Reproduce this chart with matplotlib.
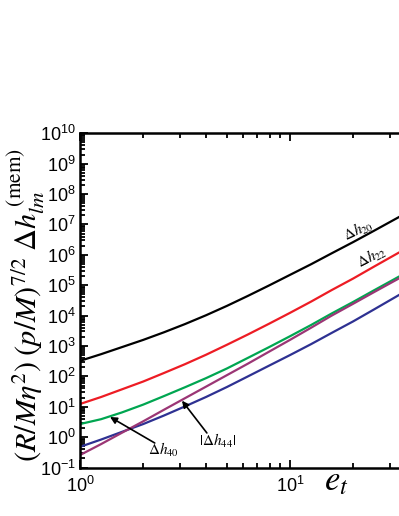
import matplotlib
matplotlib.use("Agg")
import matplotlib.pyplot as plt
from matplotlib.ticker import LogLocator, NullFormatter
import numpy as np

# eccentricity parameter e_t
e_t = [1.0, 1.26, 1.58, 2.0, 2.51, 3.16, 3.98, 5.01, 6.31, 7.94,
       10.0, 12.6, 15.8, 20.0, 25.1, 31.6, 39.8]

# log10 of (R/M eta^2)(p/M)^{7/2} Delta h_lm^(mem)
log_dh20 = [2.51, 2.73, 2.96, 3.20, 3.45, 3.72, 4.01, 4.32, 4.65, 4.99,
            5.34, 5.69, 6.05, 6.42, 6.79, 7.17, 7.55]
log_dh22 = [1.09, 1.32, 1.57, 1.83, 2.11, 2.40, 2.71, 3.04, 3.38, 3.73,
            4.09, 4.46, 4.84, 5.22, 5.61, 6.00, 6.39]
log_dh40 = [0.43, 0.59, 0.81, 1.07, 1.35, 1.64, 1.94, 2.26, 2.61, 2.96,
            3.32, 3.69, 4.07, 4.45, 4.83, 5.21, 5.59]
log_dh44 = [-0.59, -0.23, 0.14, 0.52, 0.90, 1.28, 1.66, 2.04, 2.42, 2.81,
            3.20, 3.60, 4.00, 4.39, 4.77, 5.15, 5.53]
log_dh42 = [-0.32, -0.08, 0.17, 0.43, 0.71, 1.01, 1.32, 1.65, 2.00, 2.35,
            2.70, 3.06, 3.43, 3.81, 4.20, 4.60, 5.00]

series = [
    (log_dh20, 'black'),
    (log_dh22, '#ED1C24'),
    (log_dh40, '#00A651'),
    (log_dh42, '#2E3192'),
    (log_dh44, '#9B3675'),
]

plt.rcParams['font.family'] = ['Liberation Sans', 'DejaVu Sans']
plt.rcParams['mathtext.fontset'] = 'stix'

W, H = 399, 516
fig = plt.figure(figsize=(W / 100, H / 100), dpi=100)
ax = fig.add_axes([80/W, 48.5/H, 336.4/W, 334.2/H])

for logv, col in series:
    ax.plot(e_t, np.power(10.0, logv), color=col, lw=1.6)

ax.set_xscale('log')
ax.set_yscale('log')
ax.set_xlim(1, 40)
ax.set_ylim(1e-1, 1e10)

ax.yaxis.set_major_locator(LogLocator(base=10, numticks=20))
ax.yaxis.set_minor_locator(LogLocator(base=10, subs=np.arange(2, 10), numticks=20))
ax.yaxis.set_minor_formatter(NullFormatter())
ax.xaxis.set_minor_formatter(NullFormatter())

for s in ax.spines.values():
    s.set_linewidth(1.8)

ax.tick_params(which='both', direction='in', top=True, right=True, width=1.3)
ax.tick_params(which='major', length=6, labelsize=13)
ax.tick_params(which='minor', length=3.5)
ax.tick_params(axis='x', which='major', pad=6)
ax.tick_params(axis='y', which='major', pad=3)

ylab = fig.text(26/W, 1 - 305/H,
                r'$(R/M\eta^2)\;(p/M)^{7/2}\;\Delta h_{lm}^{\;\mathrm{(mem)}}$',
                fontsize=20, rotation=90, ha='center', va='center')
# scale the label so that its length matches the reference (~313 px)
renderer = fig.canvas.get_renderer()
bb = ylab.get_window_extent(renderer)
ylab.set_fontsize(20 * 313.0 / bb.height)

fig.text(324/W, 1 - 490/H, r'$e_t$', fontsize=25, ha='left', va='baseline')

ax.text(21.1, 6.6e6, r'$\Delta h_{20}$', fontsize=11, rotation=25,
        ha='center', va='center')
ax.text(24.6, 8.5e5, r'$\Delta h_{22}$', fontsize=11, rotation=27,
        ha='center', va='center')
ax.text(2.51, 0.377, r'$\Delta h_{40}$', fontsize=11, ha='center', va='center')
ax.text(4.54, 0.745, r'$|\Delta h_{44}|$', fontsize=11, ha='center', va='center')

arrow = dict(arrowstyle='-|>', color='black', lw=1.2, mutation_scale=10,
             shrinkA=0, shrinkB=0)
ax.annotate('', xy=(1.39, 4.6), xytext=(2.27, 0.64), arrowprops=arrow)
ax.annotate('', xy=(3.06, 15.8), xytext=(4.02, 1.37), arrowprops=arrow)

fig.savefig('out.png', dpi=100)
